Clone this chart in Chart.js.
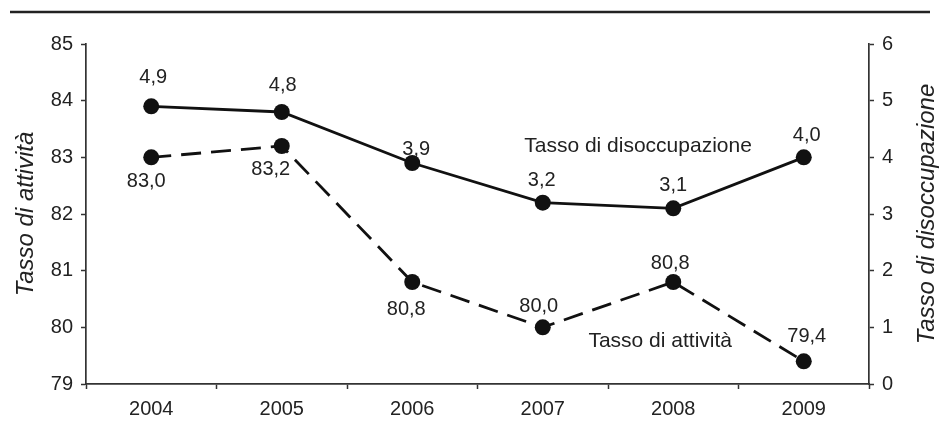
<!DOCTYPE html>
<html><head><meta charset="utf-8">
<script src="https://cdn.jsdelivr.net/npm/chart.js@4"></script>
<style>html,body{margin:0;padding:0;background:#fff}#wrap{width:940px;height:425px}</style>
</head><body><div id="wrap"><canvas id="c" width="940" height="425"></canvas></div>
<script>
// ---- data ----
const years = ['2004', '2005', '2006', '2007', '2008', '2009'];
const tassoAttivita = [83.0, 83.2, 80.8, 80.0, 80.8, 79.4];
const tassoDisoccupazione = [4.9, 4.8, 3.9, 3.2, 3.1, 4.0];
const leftTicks = [79, 80, 81, 82, 83, 84, 85];
const rightTicks = [0, 1, 2, 3, 4, 5, 6];
const leftTitle = 'Tasso di attività';
const rightTitle = 'Tasso di disoccupazione';
const seriesNames = ['Tasso di attività', 'Tasso di disoccupazione'];

// ---- label placement (style config, px relative to point: [dx, baseline dy]) ----
const attivitaLabelShift = [[-5, 30], [-11, 29], [-6, 33], [-4, -15], [-3, -13], [3, -19]];
const disoccLabelShift = [[2, -23], [1, -21], [4, -8], [-1, -17], [0, -17], [3, -16]];

const FONT = '"Liberation Sans", Arial, Helvetica, sans-serif';
const INK = '#222';
const LINE = '#111';
const fmt = v => v.toFixed(1).replace('.', ',');

const overlay = {
  id: 'overlay',
  beforeDraw(chart) {
    const ctx = chart.ctx;
    ctx.save();
    ctx.fillStyle = '#fff';
    ctx.fillRect(0, 0, chart.width, chart.height);
    ctx.strokeStyle = INK;
    ctx.lineWidth = 2.5;
    ctx.beginPath();
    ctx.moveTo(10, 12);
    ctx.lineTo(930, 12);
    ctx.stroke();
    ctx.restore();
  },
  afterDatasetsDraw(chart) {
    const ctx = chart.ctx;
    ctx.save();
    ctx.fillStyle = INK;
    ctx.textAlign = 'center';
    ctx.textBaseline = 'alphabetic';
    ctx.font = '20px ' + FONT;
    const shifts = [attivitaLabelShift, disoccLabelShift];
    chart.data.datasets.forEach((ds, i) => {
      const meta = chart.getDatasetMeta(i);
      meta.data.forEach((pt, j) => {
        const s = shifts[i][j];
        ctx.fillText(fmt(ds.data[j]), pt.x + s[0], pt.y + s[1]);
      });
    });
    // series annotations
    const xs = chart.scales.x, yl = chart.scales.yLeft, yr = chart.scales.yRight;
    ctx.font = '21px ' + FONT;
    ctx.fillText(seriesNames[1], xs.getPixelForValue(3.73), yr.getPixelForValue(4.10));
    ctx.fillText(seriesNames[0], xs.getPixelForValue(3.90), yl.getPixelForValue(79.65));
    // axis titles (both read bottom-to-top)
    ctx.font = 'italic 24px ' + FONT;
    const area = chart.chartArea;
    const midY = (area.top + area.bottom) / 2;
    [[leftTitle, 33], [rightTitle, 934]].forEach(([t, x]) => {
      ctx.save();
      ctx.translate(x, midY);
      ctx.rotate(-Math.PI / 2);
      ctx.fillText(t, 0, 0);
      ctx.restore();
    });
    ctx.restore();
  }
};

const axisStyle = {
  border: { color: '#333', width: 1.7 },
  grid: { drawOnChartArea: false, drawTicks: true, tickLength: 5, tickColor: '#333', tickWidth: 1.5 },
};

new Chart(document.getElementById('c'), {
  type: 'line',
  data: {
    labels: years,
    datasets: [
      {
        label: seriesNames[0],
        data: tassoAttivita,
        yAxisID: 'yLeft',
        borderColor: LINE,
        backgroundColor: LINE,
        borderWidth: 2.8,
        borderDash: [20, 10],
        pointRadius: 8,
        pointBorderWidth: 0,
        pointBackgroundColor: LINE,
        tension: 0,
        fill: false
      },
      {
        label: seriesNames[1],
        data: tassoDisoccupazione,
        yAxisID: 'yRight',
        borderColor: LINE,
        backgroundColor: LINE,
        borderWidth: 2.8,
        pointRadius: 8,
        pointBorderWidth: 0,
        pointBackgroundColor: LINE,
        tension: 0,
        fill: false
      }
    ]
  },
  options: {
    responsive: false,
    devicePixelRatio: 1,
    animation: false,
    layout: { padding: { top: 44, left: 0, right: 0, bottom: 0 } },
    plugins: { legend: { display: false }, tooltip: { enabled: false } },
    scales: {
      x: {
        type: 'category',
        offset: true,
        ...axisStyle,
        grid: { ...axisStyle.grid, offset: true },
        ticks: { color: INK, font: { family: FONT, size: 20 }, padding: 8, maxRotation: 0 },
        afterFit(s) { s.height = 41; }
      },
      yLeft: {
        type: 'linear',
        position: 'left',
        min: leftTicks[0],
        max: leftTicks[leftTicks.length - 1],
        ...axisStyle,
        ticks: { stepSize: 1, color: INK, font: { family: FONT, size: 20 }, padding: 8 },
        afterBuildTicks(s) { s.ticks = leftTicks.map(v => ({ value: v })); },
        afterFit(s) { s.width = 86; }
      },
      yRight: {
        type: 'linear',
        position: 'right',
        min: rightTicks[0],
        max: rightTicks[rightTicks.length - 1],
        ...axisStyle,
        ticks: { stepSize: 1, color: INK, font: { family: FONT, size: 20 }, padding: 8 },
        afterBuildTicks(s) { s.ticks = rightTicks.map(v => ({ value: v })); },
        afterFit(s) { s.width = 71; }
      }
    }
  },
  plugins: [overlay]
});
</script>
</body></html>
